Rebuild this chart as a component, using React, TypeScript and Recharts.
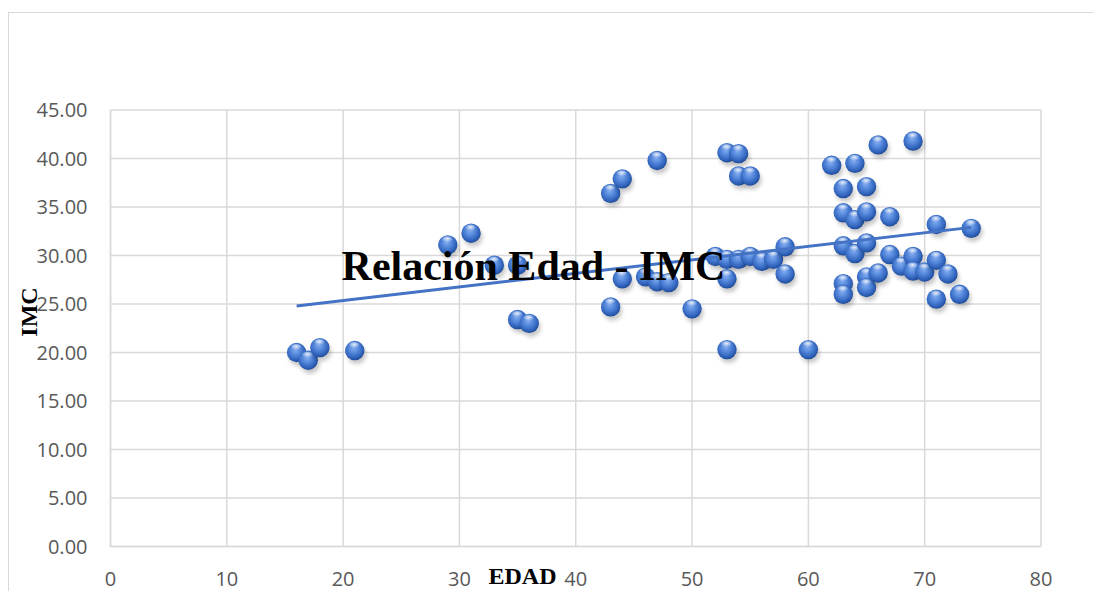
import {
  CartesianGrid,
  Scatter,
  ScatterChart,
  XAxis,
  YAxis,
} from 'recharts';

// edad / imc pairs
const edad = [
  16, 17, 18, 21, 29, 31, 33, 35, 35, 36, 43, 44, 47, 43, 44, 46, 47, 48, 50,
  52, 53, 54, 55, 56, 57, 58, 58, 53, 53, 60, 53, 54, 54, 55, 62, 64, 66, 69,
  63, 65, 63, 64, 65, 67, 71, 74, 63, 64, 65, 67, 68, 69, 69, 70, 71, 72, 63,
  63, 65, 65, 66, 71, 73,
];
const imc = [
  20.0, 19.2, 20.5, 20.2, 31.1, 32.3, 29.0, 29.0, 23.4, 23.0, 36.4, 37.9, 39.8,
  24.7, 27.6, 27.8, 27.3, 27.2, 24.5, 29.9, 29.6, 29.6, 29.9, 29.4, 29.6, 30.9,
  28.1, 27.6, 20.3, 20.3, 40.6, 40.5, 38.2, 38.2, 39.3, 39.5, 41.4, 41.8, 36.9,
  37.1, 34.4, 33.7, 34.5, 34.0, 33.2, 32.8, 31.0, 30.2, 31.3, 30.1, 28.9, 29.9,
  28.4, 28.3, 29.5, 28.1, 27.1, 26.0, 27.8, 26.7, 28.2, 25.5, 26.0,
];

// linear trendline ends
const trendEdad = [16, 74];
const trendImc = [24.8, 32.9];

const xTicks = [0, 10, 20, 30, 40, 50, 60, 70, 80];
const yTicks = [0, 5, 10, 15, 20, 25, 30, 35, 40, 45];

const points = edad.map((x, i) => ({ x, y: imc[i] }));
const trend = trendEdad.map((x, i) => ({ x, y: trendImc[i] }));

const tickStyle = { fill: '#595959', fontSize: 20, fontFamily: '"Open Sans", sans-serif' };
const serif = '"Liberation Serif", "Times New Roman", serif';

const Sphere = (props: any) => {
  const { cx, cy } = props;
  if (cx == null || cy == null) return <g />;
  return (
    <g>
      <circle cx={cx + 2} cy={cy + 4} r={9.5} fill="#000" opacity={0.22} filter="url(#sphereShadow)" />
      <circle cx={cx} cy={cy} r={9.7} fill="url(#sphereFill)" />
      <ellipse cx={cx - 0.5} cy={cy - 5.6} rx={5.2} ry={3} fill="url(#sphereShine)" />
    </g>
  );
};

export default function App() {
  return (
    <div style={{ position: 'relative', width: 1094, height: 583, overflow: 'hidden' }}>
      <svg width={0} height={0} style={{ position: 'absolute' }}>
        <defs>
          <radialGradient id="sphereFill" cx="45%" cy="42%" r="62%" fx="45%" fy="35%">
            <stop offset="0%" stopColor="#86aef0" />
            <stop offset="45%" stopColor="#4f83d8" />
            <stop offset="80%" stopColor="#2c5eb5" />
            <stop offset="100%" stopColor="#1b448c" />
          </radialGradient>
          <radialGradient id="sphereShine" cx="50%" cy="40%" r="60%">
            <stop offset="0%" stopColor="#ffffff" stopOpacity={0.85} />
            <stop offset="100%" stopColor="#ffffff" stopOpacity={0} />
          </radialGradient>
          <filter id="sphereShadow" x="-50%" y="-50%" width="200%" height="200%">
            <feGaussianBlur stdDeviation="2" />
          </filter>
        </defs>
      </svg>
      <div
        style={{
          position: 'absolute',
          left: 0,
          top: 4,
          width: 2000,
          height: 2000,
          border: '1.5px solid #d9d9d9',
        }}
      />
      <div style={{ position: 'absolute', left: 0, top: 0 }}>
        <ScatterChart
          width={1094}
          height={583}
          margin={{ top: 102, right: 61, bottom: 0, left: 0 }}
        >
          <CartesianGrid stroke="#d9d9d9" strokeWidth={1.5} />
          <XAxis
            type="number"
            dataKey="x"
            domain={[0, 80]}
            ticks={xTicks}
            height={44.5}
            tickSize={0}
            tickMargin={25}
            tickLine={false}
            axisLine={{ stroke: '#d9d9d9', strokeWidth: 1.5 }}
            tick={tickStyle}
          />
          <YAxis
            type="number"
            dataKey="y"
            domain={[0, 45]}
            ticks={yTicks}
            width={102.5}
            tickSize={0}
            tickMargin={23}
            tickLine={false}
            axisLine={{ stroke: '#d9d9d9', strokeWidth: 1.5 }}
            tick={tickStyle}
            tickFormatter={(v: number) => v.toFixed(2)}
          />
          <Scatter data={points} shape={Sphere} isAnimationActive={false} />
          <Scatter
            data={trend}
            line={{ stroke: '#4472C4', strokeWidth: 3 }}
            shape={() => <g />}
            isAnimationActive={false}
          />
        </ScatterChart>
      </div>
      <svg
        width={1094}
        height={583}
        style={{ position: 'absolute', left: 0, top: 0, pointerEvents: 'none' }}
      >
        <text
          x={525.5}
          y={272}
          textAnchor="middle"
          fontFamily={serif}
          fontWeight="bold"
          fontSize={42}
          fill="#000"
        >
          Relación Edad - IMC
        </text>
        <text
          x={514.5}
          y={576}
          textAnchor="middle"
          fontFamily={serif}
          fontWeight="bold"
          fontSize={24}
          fill="#000"
        >
          EDAD
        </text>
        <text
          transform="translate(29,304) rotate(-90)"
          textAnchor="middle"
          fontFamily={serif}
          fontWeight="bold"
          fontSize={24}
          fill="#000"
        >
          IMC
        </text>
      </svg>
    </div>
  );
}
